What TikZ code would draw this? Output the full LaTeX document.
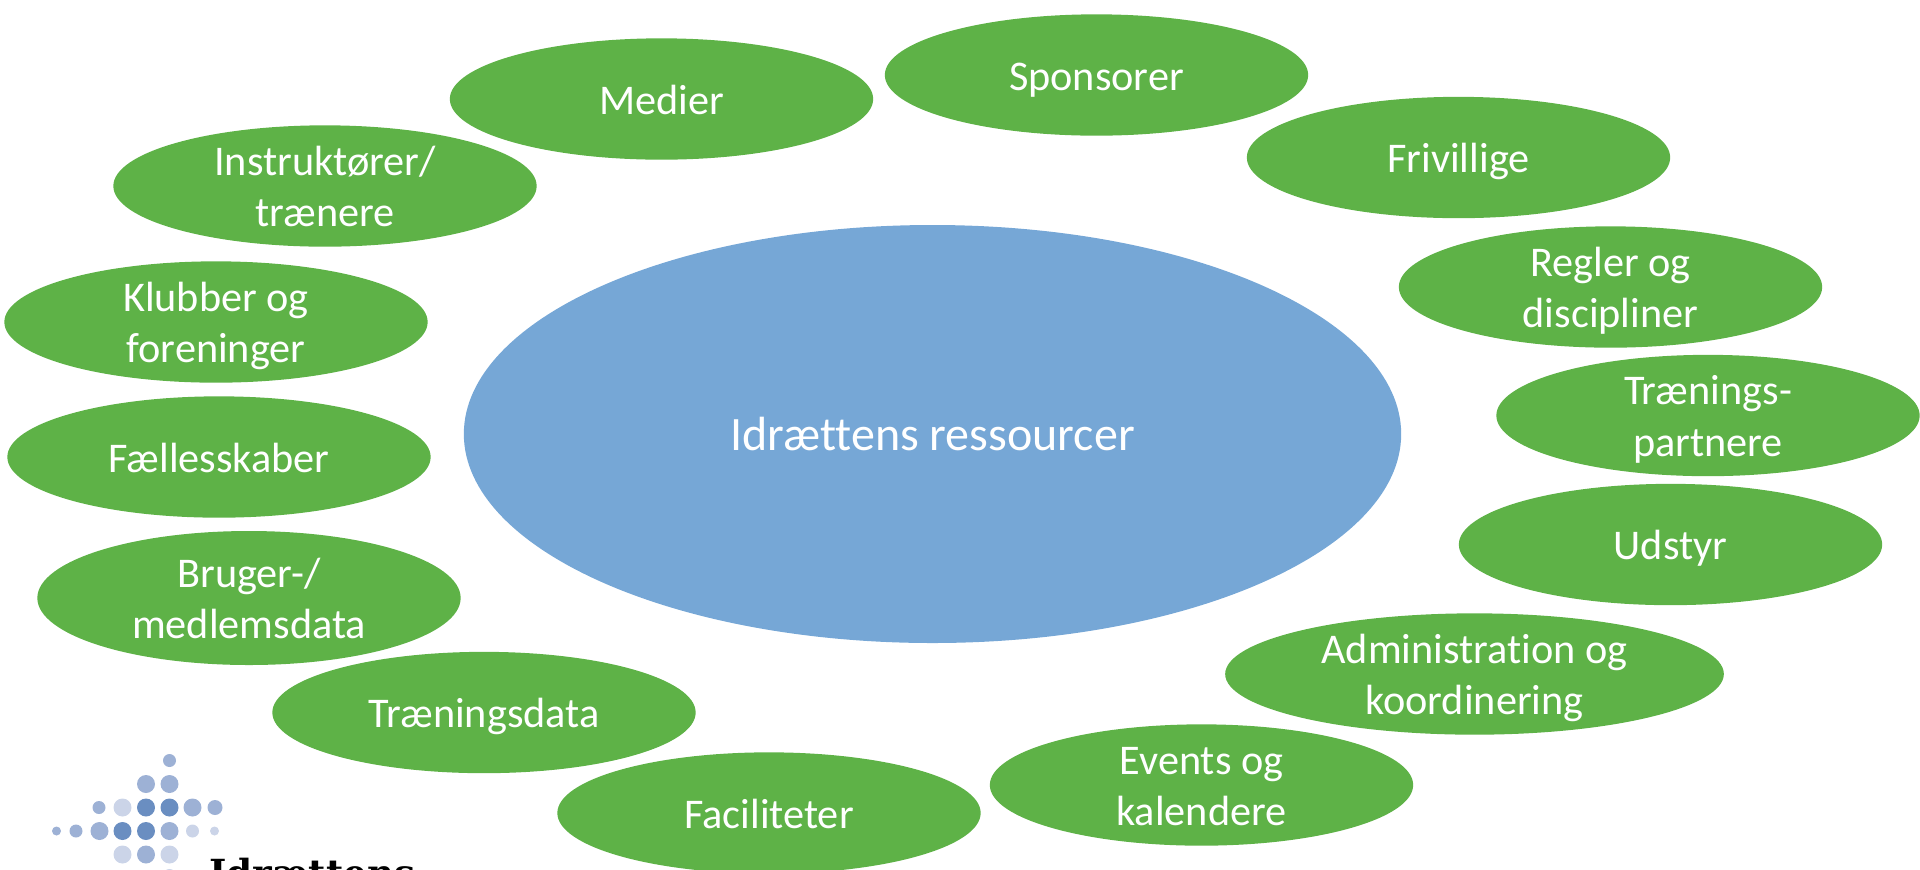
\documentclass[tikz,border=0pt]{standalone}
\usepackage{fontspec}
\usetikzlibrary{shapes.geometric}
\setmainfont[Ligatures=CommonOff]{Carlito}
\newfontfamily\logofont{DejaVu Serif}
\definecolor{grn}{HTML}{5EB247}
\definecolor{blu}{HTML}{76A7D6}
\definecolor{dotA}{HTML}{9DB1D5}
\definecolor{dotB}{HTML}{6A8EC1}
\definecolor{dotC}{HTML}{CBD4E8}
\tikzset{
  x=0.75pt,y=-0.75pt,
  gell/.style={ellipse,fill=grn,inner sep=0pt,outer sep=0pt,minimum width=317.5pt,minimum height=91pt,text=white,align=center,font=\fontsize{31.7}{38}\selectfont},
  cell/.style={ellipse,fill=blu,inner sep=0pt,outer sep=0pt,minimum width=703pt,minimum height=313.5pt,text=white,font=\fontsize{36}{43}\selectfont}
}
\newcommand{\oneline}[1]{\makebox[0pt]{\smash{\raisebox{-11.25pt}{#1}}}}
\newcommand{\twoline}[2]{\makebox[0pt]{\smash{\raisebox{7.9pt}{#1}}}\makebox[0pt]{\smash{\raisebox{-30.4pt}{#2}}}}
\begin{document}
\begin{tikzpicture}
\useasboundingbox (0,0) rectangle (1920,869);
\clip (0,0) rectangle (1920,869);
\node[cell] (center) at (932.5,434) {\makebox[0pt]{\smash{\raisebox{-12pt}{Idrættens ressourcer}}}};
\node[gell] (medier) at (661.5,99) {\oneline{Medier}};
\node[gell] (sponsorer) at (1096.5,75) {\oneline{Sponsorer}};
\node[gell] (frivillige) at (1458.5,157.5) {\oneline{Frivillige}};
\node[gell] (regler) at (1610.5,287) {\twoline{Regler og}{discipliner}};
\node[gell] (partnere) at (1708,415.5) {\twoline{Trænings-}{partnere}};
\node[gell] (udstyr) at (1670.5,544.5) {\oneline{Udstyr}};
\node[gell,minimum width=374pt] (admin) at (1474.5,674) {\twoline{Administration og}{koordinering}};
\node[gell] (events) at (1201.5,785) {\twoline{Events og}{kalendere}};
\node[gell] (facil) at (769,813) {\oneline{Faciliteter}};
\node[gell] (tdata) at (484,712.5) {\oneline{Træningsdata}};
\node[gell,minimum height=100.5pt] (bruger) at (249,598) {\twoline{Bruger-/}{medlemsdata}};
\node[gell] (faelles) at (219,457) {\oneline{Fællesskaber}};
\node[gell] (klubber) at (216,322) {\twoline{Klubber og}{foreninger}};
\node[gell] (instr) at (325,186) {\twoline{Instruktører/}{trænere}};
% logo
\foreach \px/\py/\d/\c in {169.5/760.5/13/dotA, 146/784/18/dotA, 169.5/784/18/dotA, 99/807.5/13/dotA, 122.5/807.5/18/dotC, 146/807.5/18/dotB, 169.5/807.5/18/dotB, 192.5/807.5/18/dotA, 215/807.5/15/dotA, 56.5/831/9/dotA, 76/831/13/dotA, 99.5/831/18/dotA, 122.5/831/18/dotB, 146/831/18/dotB, 169.5/831/18/dotA, 192.5/831/13/dotC, 214.5/831/9/dotC, 122.5/854.5/18/dotC, 146/854.5/18/dotA, 169.5/854.5/18/dotC, 169.5/876/14/dotC}{
 \fill[\c] (\px,\py) circle[radius=\d*0.375pt];
}
\node[anchor=base west,inner sep=0pt,font=\logofont\bfseries\fontsize{28}{28}\selectfont] (logotext) at (209,886) {Idrættens};
\end{tikzpicture}
\end{document}
